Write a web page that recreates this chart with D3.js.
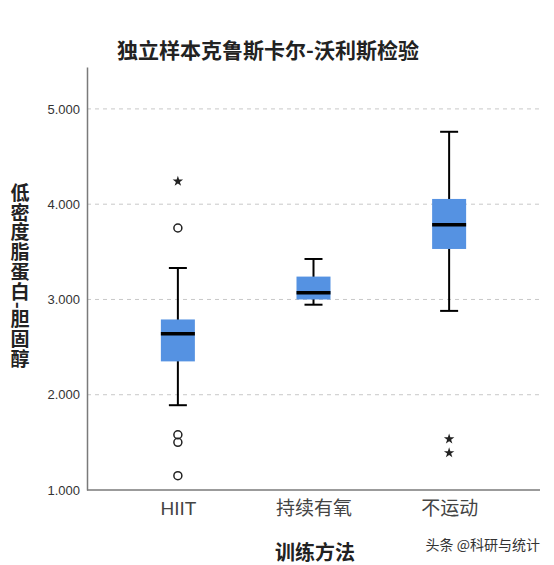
<!DOCTYPE html>
<html>
<head>
<meta charset="utf-8">
<script src="https://cdn.jsdelivr.net/npm/d3@7"></script>
<style>
  body { margin: 0; background: #fff; }
  svg { display: block; }
  .grid line { stroke: #c8c8c8; stroke-dasharray: 4 4; stroke-width: 1; }
</style>
</head>
<body>
<div id="chart"></div>
<script>
// group names
var groups = ['HIIT', '持续有氧', '不运动'];

// box plot stats, one value per group
var whiskerLow = [1.89, 2.945, 2.88];
var q1 = [2.35, 3.00, 3.53];
var median = [2.64, 3.07, 3.785];
var q3 = [2.79, 3.24, 4.055];
var whiskerHigh = [3.33, 3.425, 4.76];

// outliers (circles) and extreme values (stars)
var mildOutliers = [[3.75, 1.58, 1.50, 1.15], [], []];
var extremeOutliers = [[4.24], [], [1.535, 1.39]];

var yTicks = [1, 2, 3, 4, 5];

var width = 554,
  height = 565,
  margin = {top: 67, right: 14, bottom: 75, left: 87},
  cjk = '"Noto Sans CJK SC", "Noto Sans", sans-serif',
  latin = '"Liberation Sans", Arial, "Noto Sans CJK SC", sans-serif';

var svg = d3.select('#chart').append('svg')
  .attr('width', width)
  .attr('height', height);

var x = d3.scalePoint()
  .domain(groups)
  .range([margin.left, width - margin.right])
  .padding(0.67);

var y = d3.scaleLinear()
  .domain([1, 5.44])
  .range([height - margin.bottom, margin.top]);

// dashed grid
svg.append('g')
  .attr('class', 'grid')
  .selectAll('line')
  .data(yTicks.filter(function (d) { return d > 1; }))
  .enter().append('line')
  .attr('x1', margin.left)
  .attr('x2', width - margin.right)
  .attr('y1', function (d) { return y(d); })
  .attr('y2', function (d) { return y(d); });

// y axis
var yAxis = svg.append('g')
  .attr('transform', 'translate(' + margin.left + ',0)')
  .call(d3.axisLeft(y).tickValues(yTicks).tickFormat(d3.format('.3f')).tickSize(0).tickPadding(7));
yAxis.select('.domain').attr('stroke', '#7a7a7a').attr('stroke-width', 1.5);
yAxis.selectAll('text')
  .attr('fill', '#333')
  .style('font-family', latin)
  .style('font-size', '13px');

// x axis
var xAxis = svg.append('g')
  .attr('transform', 'translate(0,' + (height - margin.bottom) + ')')
  .call(d3.axisBottom(x).tickSize(0).tickPadding(12));
xAxis.select('.domain')
  .attr('d', 'M' + margin.left + ',0H' + (width - margin.right))
  .attr('stroke', '#7a7a7a').attr('stroke-width', 1.5);
xAxis.selectAll('text')
  .attr('fill', '#444')
  .style('font-family', latin)
  .style('font-size', '19px');

var boxW = 34, capW = 18;

var boxes = svg.append('g').selectAll('g')
  .data(groups)
  .enter().append('g');

// whiskers
boxes.append('line')
  .attr('x1', function (d) { return x(d); })
  .attr('x2', function (d) { return x(d); })
  .attr('y1', function (d, i) { return y(whiskerLow[i]); })
  .attr('y2', function (d, i) { return y(whiskerHigh[i]); })
  .attr('stroke', '#000').attr('stroke-width', 2);

boxes.selectAll('.cap')
  .data(function (d, i) { return [{g: d, v: whiskerLow[i]}, {g: d, v: whiskerHigh[i]}]; })
  .enter().append('line')
  .attr('class', 'cap')
  .attr('x1', function (d) { return x(d.g) - capW / 2; })
  .attr('x2', function (d) { return x(d.g) + capW / 2; })
  .attr('y1', function (d) { return y(d.v); })
  .attr('y2', function (d) { return y(d.v); })
  .attr('stroke', '#000').attr('stroke-width', 2);

// box
boxes.append('rect')
  .attr('x', function (d) { return x(d) - boxW / 2; })
  .attr('width', boxW)
  .attr('y', function (d, i) { return y(q3[i]); })
  .attr('height', function (d, i) { return y(q1[i]) - y(q3[i]); })
  .attr('fill', '#5592e2');

// median
boxes.append('line')
  .attr('x1', function (d) { return x(d) - boxW / 2; })
  .attr('x2', function (d) { return x(d) + boxW / 2; })
  .attr('y1', function (d, i) { return y(median[i]); })
  .attr('y2', function (d, i) { return y(median[i]); })
  .attr('stroke', '#000').attr('stroke-width', 3.5);

// outliers
boxes.selectAll('circle')
  .data(function (d, i) { return mildOutliers[i].map(function (v) { return {g: d, v: v}; }); })
  .enter().append('circle')
  .attr('cx', function (d) { return x(d.g); })
  .attr('cy', function (d) { return y(d.v); })
  .attr('r', 4)
  .attr('fill', 'none')
  .attr('stroke', '#222')
  .attr('stroke-width', 1.5);

var star = d3.symbol().type(d3.symbolStar).size(34);
boxes.selectAll('.star')
  .data(function (d, i) { return extremeOutliers[i].map(function (v) { return {g: d, v: v}; }); })
  .enter().append('path')
  .attr('class', 'star')
  .attr('d', star)
  .attr('transform', function (d) { return 'translate(' + x(d.g) + ',' + y(d.v) + ')'; })
  .attr('fill', '#222');

// title
svg.append('text')
  .attr('x', 268)
  .attr('y', 58)
  .attr('text-anchor', 'middle')
  .style('font-family', cjk)
  .style('font-weight', 'bold')
  .style('font-size', '21px')
  .attr('fill', '#222')
  .text('独立样本克鲁斯卡尔-沃利斯检验');

// y axis title, vertical
svg.append('text')
  .attr('x', 20)
  .attr('y', 183)
  .style('writing-mode', 'vertical-rl')
  .style('text-orientation', 'mixed')
  .style('letter-spacing', '0.8px')
  .style('font-family', cjk)
  .style('font-weight', 'bold')
  .style('font-size', '19px')
  .attr('fill', '#222')
  .text('低密度脂蛋白-胆固醇');

// x axis title
svg.append('text')
  .attr('x', 315)
  .attr('y', 560)
  .attr('text-anchor', 'middle')
  .style('font-family', cjk)
  .style('font-weight', 'bold')
  .style('font-size', '20px')
  .attr('fill', '#222')
  .text('训练方法');

// watermark
svg.append('text')
  .attr('x', 540)
  .attr('y', 550)
  .attr('text-anchor', 'end')
  .style('font-family', cjk)
  .style('font-size', '14px')
  .attr('fill', '#333')
  .text('头条 @科研与统计');
</script>
</body>
</html>
